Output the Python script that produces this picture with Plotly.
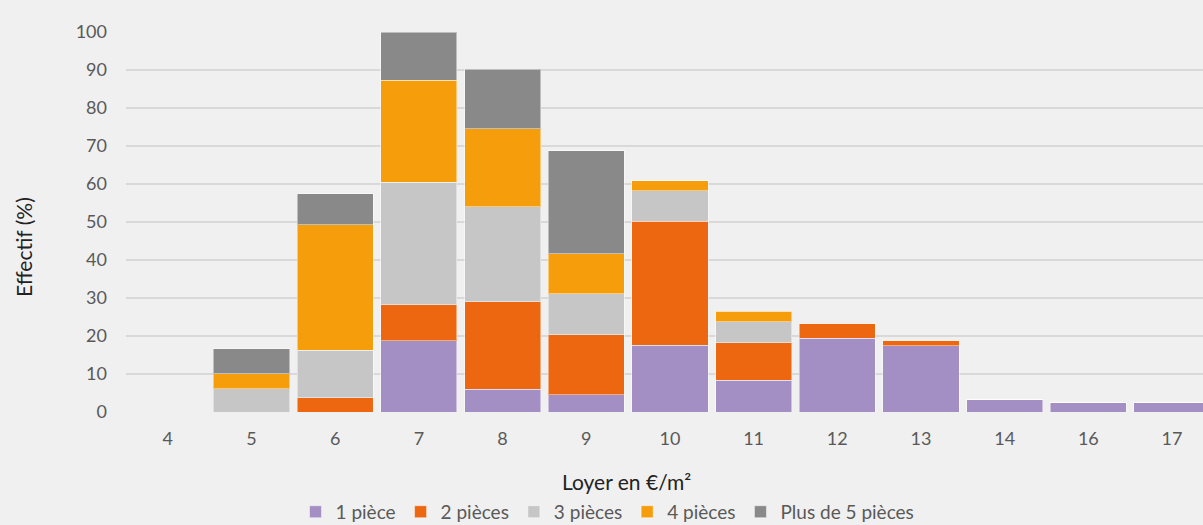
import plotly.graph_objects as go

categories = ["4", "5", "6", "7", "8", "9", "10", "11", "12", "13", "14", "16", "17"]
p1 = [0, 0, 0, 18.7, 6.0, 4.5, 17.6, 8.3, 19.4, 17.5, 3.2, 2.4, 2.5]
p2 = [0, 0, 3.8, 9.5, 23.0, 15.8, 32.6, 9.9, 4.0, 1.4, 0, 0, 0]
p3 = [0, 6.1, 12.4, 32.3, 25.0, 10.8, 8.0, 5.6, 0, 0, 0, 0, 0]
p4 = [0, 4.0, 33.1, 26.8, 20.5, 10.5, 2.6, 2.7, 0, 0, 0, 0, 0]
p5 = [0, 6.5, 8.1, 12.7, 15.7, 27.2, 0, 0, 0, 0, 0, 0, 0]

series = [
    ("1 pièce", p1, "#a48fc4"),
    ("2 pièces", p2, "#ec6710"),
    ("3 pièces", p3, "#c6c6c6"),
    ("4 pièces", p4, "#f59d0a"),
    ("Plus de 5 pièces", p5, "#898989"),
]

fig = go.Figure()
for name, vals, col in series:
    fig.add_trace(go.Bar(
        x=categories, y=vals, name=name,
        marker=dict(color=col, line=dict(color="rgba(255,255,255,0.45)", width=1)),
    ))

font_fam = "Lato, 'Noto Sans', sans-serif"
fig.update_layout(
    barmode="stack",
    bargap=0.09,
    width=1203, height=525,
    paper_bgcolor="#f0f0f0", plot_bgcolor="#f0f0f0",
    margin=dict(l=126, r=0, t=32, b=113),
    font=dict(family=font_fam, size=18, color="#595959"),
    xaxis=dict(
        type="category", range=[-0.5, 12.37],
        showgrid=False, showline=False, zeroline=False,
        ticks="", ticklabelstandoff=14,
    ),
    yaxis=dict(
        range=[0, 100], dtick=10, tick0=0,
        showgrid=True, gridcolor="#d9d9d9", gridwidth=1.5,
        zeroline=False, showline=False, ticks="", ticklabelstandoff=18,
    ),
    legend=dict(
        orientation="h", xref="container", yref="container",
        x=0.505, xanchor="center", y=0.025, yanchor="middle",
        font=dict(size=19, color="#595959"),
        traceorder="normal", itemwidth=30,
    ),
    annotations=[
        dict(text="Loyer en €/m²", xref="paper", yref="paper",
             x=(626 - 126) / 1077, y=-(481 - 412) / 380, xanchor="center", yanchor="middle",
             showarrow=False, font=dict(size=21, color="#222222")),
        dict(text="Effectif (%)", xref="paper", yref="paper",
             x=-(126 - 23) / 1077, y=(412 - 247) / 380, xanchor="center", yanchor="middle",
             textangle=-90, showarrow=False, font=dict(size=21, color="#222222")),
    ],
)
fig.write_html("out.html", config={"displayModeBar": False},
               post_script="document.body.style.margin='0';")
